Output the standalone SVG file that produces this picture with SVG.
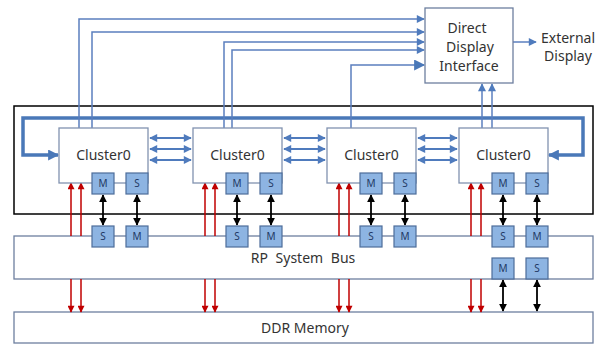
<svg xmlns="http://www.w3.org/2000/svg" width="602" height="345" viewBox="0 0 602 345">
<style>
.cl{fill:#fff;stroke:#8192b0;stroke-width:1.3}
.ms{fill:#8db4e2;stroke:#4d6d9a;stroke-width:1.2}
.mst{font-family:"Noto Sans",sans-serif;font-size:10px;fill:#1f3864;text-anchor:middle}
.t{font-family:"Noto Sans",sans-serif;font-size:14px;fill:#333;text-anchor:middle}
.bx{fill:#fff;stroke:#6d7f9f;stroke-width:1.3}
.bl{stroke:#5b7fbf;stroke-width:1.5;fill:none}
.bl2{stroke:#4f7bbd;stroke-width:2;fill:none}
.loop{stroke:#4a78b8;stroke-width:3.5;fill:none}
.red{stroke:#c00000;stroke-width:1.5;fill:none}
.blk{stroke:#000;stroke-width:1.8;fill:none}
</style>
<defs>
<marker id="ab" markerUnits="userSpaceOnUse" viewBox="0 0 10 10" refX="9" refY="5" markerWidth="9" markerHeight="8" orient="auto-start-reverse"><path d="M0,0L10,5L0,10z" fill="#4f7bbd"/></marker>
<marker id="abL" markerUnits="userSpaceOnUse" viewBox="0 0 10 10" refX="9" refY="5" markerWidth="12" markerHeight="11" orient="auto-start-reverse"><path d="M0,0L10,5L0,10z" fill="#4a78b8"/></marker>
<marker id="ar" markerUnits="userSpaceOnUse" viewBox="0 0 10 10" refX="9" refY="5" markerWidth="9" markerHeight="7" orient="auto-start-reverse"><path d="M0,0L10,5L0,10z" fill="#c00000"/></marker>
<marker id="ak" markerUnits="userSpaceOnUse" viewBox="0 0 10 10" refX="9" refY="5" markerWidth="8" markerHeight="8" orient="auto-start-reverse"><path d="M0,0L10,5L0,10z" fill="#000"/></marker>
</defs>
<rect x="0" y="0" width="602" height="345" fill="#fff"/>

<g id="bus">
<rect class="bx" x="14" y="236" width="579" height="43"/>
<text class="t" x="303" y="263" word-spacing="4">RP System Bus</text>
</g>
<g id="ddr">
<rect class="bx" x="14" y="312" width="579" height="31"/>
<text class="t" x="305" y="333">DDR Memory</text>
</g>
<g id="system">
<rect x="14" y="106" width="579" height="108" fill="none" stroke="#000" stroke-width="1.5"/>
</g>

<g id="connectors">
<!-- loop -->
<path class="loop" d="M58,155H23V118H583V155H549" marker-start="url(#abL)" marker-end="url(#abL)"/>
<!-- to DDI -->
<path class="bl" d="M79,128V19H424" marker-end="url(#ab)"/>
<path class="bl" d="M92,128V32H424" marker-end="url(#ab)"/>
<path class="bl" d="M224,128V42H424" marker-end="url(#ab)"/>
<path class="bl" d="M232,128V50H424" marker-end="url(#ab)"/>
<path class="bl" d="M351,128V65H424" stroke-width="3" marker-end="url(#abL)"/>
<path class="bl" d="M482,128V84" marker-end="url(#ab)"/>
<path class="bl" d="M492,128V84" marker-end="url(#ab)"/>
<path class="bl" d="M513,42H536" marker-end="url(#ab)"/>
<!-- between clusters -->
<path class="bl2" d="M150,138H191M150,149H191M150,160H191" />
<path class="bl2" d="M150,138H191" marker-start="url(#ab)" marker-end="url(#ab)"/>
<path class="bl2" d="M150,149H191" marker-start="url(#ab)" marker-end="url(#ab)"/>
<path class="bl2" d="M150,160H191" marker-start="url(#ab)" marker-end="url(#ab)"/>
<path class="bl2" d="M284,138H325" marker-start="url(#ab)" marker-end="url(#ab)"/>
<path class="bl2" d="M284,149H325" marker-start="url(#ab)" marker-end="url(#ab)"/>
<path class="bl2" d="M284,160H325" marker-start="url(#ab)" marker-end="url(#ab)"/>
<path class="bl2" d="M418,138H457" marker-start="url(#ab)" marker-end="url(#ab)"/>
<path class="bl2" d="M418,149H457" marker-start="url(#ab)" marker-end="url(#ab)"/>
<path class="bl2" d="M418,160H457" marker-start="url(#ab)" marker-end="url(#ab)"/>
<!-- red up -->
<path class="red" d="M71,236V183" marker-end="url(#ar)"/>
<path class="red" d="M81,236V183" marker-end="url(#ar)"/>
<path class="red" d="M205,236V183" marker-end="url(#ar)"/>
<path class="red" d="M215,236V183" marker-end="url(#ar)"/>
<path class="red" d="M339,236V183" marker-end="url(#ar)"/>
<path class="red" d="M349,236V183" marker-end="url(#ar)"/>
<path class="red" d="M471,236V183" marker-end="url(#ar)"/>
<path class="red" d="M481,236V183" marker-end="url(#ar)"/>
<!-- red down -->
<path class="red" d="M71,279V312" marker-end="url(#ar)"/>
<path class="red" d="M81,279V312" marker-end="url(#ar)"/>
<path class="red" d="M205,279V312" marker-end="url(#ar)"/>
<path class="red" d="M215,279V312" marker-end="url(#ar)"/>
<path class="red" d="M339,279V312" marker-end="url(#ar)"/>
<path class="red" d="M349,279V312" marker-end="url(#ar)"/>
<path class="red" d="M471,279V312" marker-end="url(#ar)"/>
<path class="red" d="M481,279V312" marker-end="url(#ar)"/>
<!-- black double -->
<path class="blk" d="M103,195V225" marker-start="url(#ak)" marker-end="url(#ak)"/>
<path class="blk" d="M137,195V225" marker-start="url(#ak)" marker-end="url(#ak)"/>
<path class="blk" d="M237,195V225" marker-start="url(#ak)" marker-end="url(#ak)"/>
<path class="blk" d="M271,195V225" marker-start="url(#ak)" marker-end="url(#ak)"/>
<path class="blk" d="M371,195V225" marker-start="url(#ak)" marker-end="url(#ak)"/>
<path class="blk" d="M405,195V225" marker-start="url(#ak)" marker-end="url(#ak)"/>
<path class="blk" d="M503,195V225" marker-start="url(#ak)" marker-end="url(#ak)"/>
<path class="blk" d="M537,195V225" marker-start="url(#ak)" marker-end="url(#ak)"/>
<path class="blk" d="M503,280V311" marker-start="url(#ak)" marker-end="url(#ak)"/>
<path class="blk" d="M537,280V311" marker-start="url(#ak)" marker-end="url(#ak)"/>
</g>

<g id="ddi">
<rect class="bx" x="425" y="8" width="88" height="75"/>
<text class="t" x="467" y="33">Direct</text>
<text class="t" x="470" y="52">Display</text>
<text class="t" x="469" y="71">Interface</text>
</g>
<g id="external">
<text class="t" x="568" y="43">External</text>
<text class="t" x="568" y="61">Display</text>
</g>

<g id="cluster1">
<rect class="cl" x="59" y="128" width="89" height="55"/>
<text class="t" x="103.5" y="160">Cluster0</text>
<rect class="ms" x="92" y="173" width="22" height="21"/><text class="mst" x="103" y="187">M</text>
<rect class="ms" x="126" y="173" width="22" height="21"/><text class="mst" x="137" y="187">S</text>
</g>
<g id="cluster2">
<rect class="cl" x="193" y="128" width="89" height="55"/>
<text class="t" x="237.5" y="160">Cluster0</text>
<rect class="ms" x="226" y="173" width="22" height="21"/><text class="mst" x="237" y="187">M</text>
<rect class="ms" x="260" y="173" width="22" height="21"/><text class="mst" x="271" y="187">S</text>
</g>
<g id="cluster3">
<rect class="cl" x="327" y="128" width="89" height="55"/>
<text class="t" x="371.5" y="160">Cluster0</text>
<rect class="ms" x="360" y="173" width="22" height="21"/><text class="mst" x="371" y="187">M</text>
<rect class="ms" x="394" y="173" width="22" height="21"/><text class="mst" x="405" y="187">S</text>
</g>
<g id="cluster4">
<rect class="cl" x="459" y="128" width="89" height="55"/>
<text class="t" x="503.5" y="160">Cluster0</text>
<rect class="ms" x="492" y="173" width="22" height="21"/><text class="mst" x="503" y="187">M</text>
<rect class="ms" x="526" y="173" width="22" height="21"/><text class="mst" x="537" y="187">S</text>
</g>

<g id="bus-ports">
<rect class="ms" x="92" y="226" width="22" height="21"/><text class="mst" x="103" y="240">S</text>
<rect class="ms" x="126" y="226" width="22" height="21"/><text class="mst" x="137" y="240">M</text>
<rect class="ms" x="226" y="226" width="22" height="21"/><text class="mst" x="237" y="240">S</text>
<rect class="ms" x="260" y="226" width="22" height="21"/><text class="mst" x="271" y="240">M</text>
<rect class="ms" x="360" y="226" width="22" height="21"/><text class="mst" x="371" y="240">S</text>
<rect class="ms" x="394" y="226" width="22" height="21"/><text class="mst" x="405" y="240">M</text>
<rect class="ms" x="492" y="226" width="22" height="21"/><text class="mst" x="503" y="240">S</text>
<rect class="ms" x="526" y="226" width="22" height="21"/><text class="mst" x="537" y="240">M</text>
<rect class="ms" x="492" y="258" width="22" height="21"/><text class="mst" x="503" y="272">M</text>
<rect class="ms" x="526" y="258" width="22" height="21"/><text class="mst" x="537" y="272">S</text>
</g>
</svg>
